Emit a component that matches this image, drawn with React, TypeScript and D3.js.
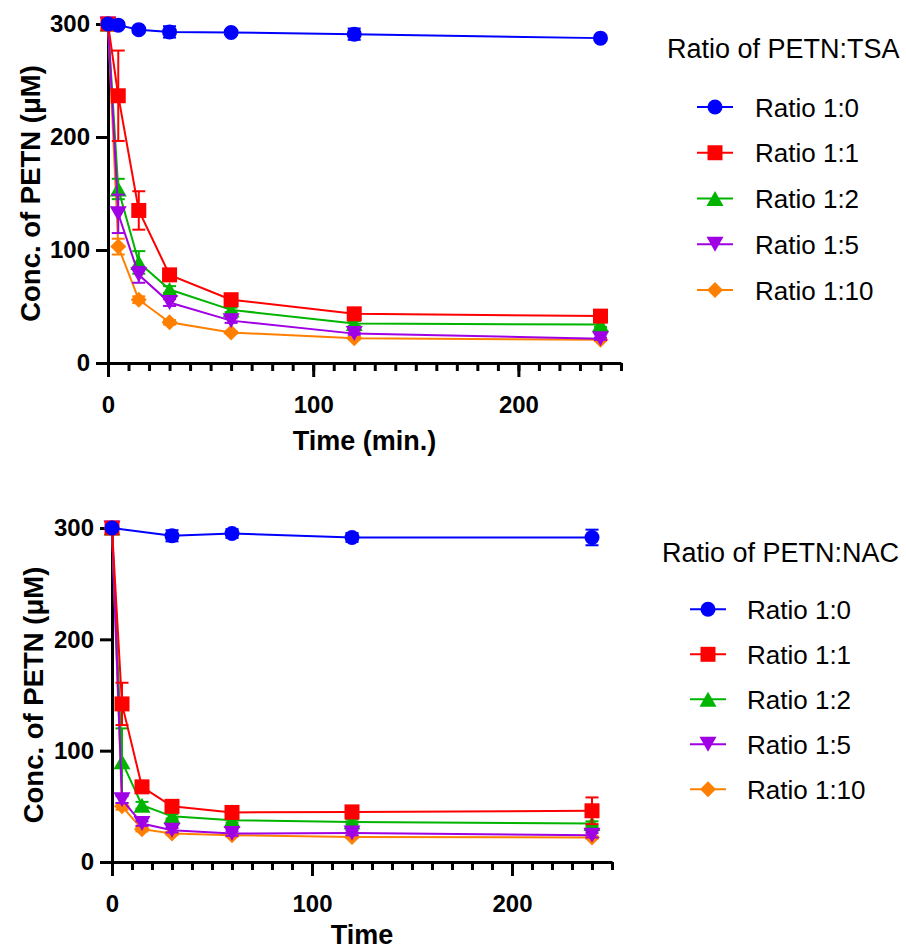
import { useEffect, useRef } from "react";
import * as d3 from "d3";

const FONT = "'Liberation Sans', Arial, sans-serif";

const TIMES = [0, 5, 15, 30, 60, 120, 240];
const NAC_1_0_TIMES = [0, 30, 60, 120, 240];

const LABELS = ["Ratio 1:0", "Ratio 1:1", "Ratio 1:2", "Ratio 1:5", "Ratio 1:10"];
const COLORS = ["#0000FF", "#FF0000", "#00B400", "#A000E4", "#FF8000"];
const SHAPES = ["circle", "square", "triangle", "triangleDown", "diamond"];

// PETN:TSA
const TSA_1_0 = [300, 299, 295, 293, 292.5, 291, 287.5];
const TSA_1_0_ERR = [0, 2, 2, 5, 2, 5, 2];
const TSA_1_1 = [300, 236.5, 135, 78, 56, 43.5, 41.5];
const TSA_1_1_ERR = [0, 40, 17, 3, 3, 2, 2];
const TSA_1_2 = [300, 154, 89, 65, 47, 35, 34];
const TSA_1_2_ERR = [0, 9, 10, 3, 2, 2, 2];
const TSA_1_5 = [300, 132, 78, 53.5, 37.5, 26, 21.5];
const TSA_1_5_ERR = [0, 17, 7, 3, 2, 1, 1];
const TSA_1_10 = [300, 103, 56, 36, 27, 22, 20.5];
const TSA_1_10_ERR = [0, 7, 3, 2, 1, 1, 1];

// PETN:NAC
const NAC_1_0 = [300, 293, 295, 291.5, 291.5];
const NAC_1_0_ERR = [0, 5, 4, 4, 7];
const NAC_1_1 = [300, 142, 67.5, 50, 44.5, 45, 46];
const NAC_1_1_ERR = [0, 19, 3, 2, 2, 2, 12];
const NAC_1_2 = [300, 90, 51, 41, 37.5, 36, 34.5];
const NAC_1_2_ERR = [0, 30, 3, 2, 2, 2, 2];
const NAC_1_5 = [300, 56, 34.5, 28.5, 25.5, 26, 24];
const NAC_1_5_ERR = [0, 3, 2, 2, 2, 2, 2];
const NAC_1_10 = [300, 50, 29.5, 25.5, 24, 22.5, 22];
const NAC_1_10_ERR = [0, 3, 2, 1, 1, 1, 1];

const X_MAJOR = [0, 100, 200];
const X_MINOR = d3.range(0, 251, 10);
const Y_TICKS = [0, 100, 200, 300];

type Pt = { t: number; v: number; e: number };

function makeSeries(times: number[], vals: number[], errs: number[]): Pt[] {
  return times.map((t, i) => ({ t, v: vals[i], e: errs[i] }));
}

const TSA_SERIES = [
  makeSeries(TIMES, TSA_1_0, TSA_1_0_ERR),
  makeSeries(TIMES, TSA_1_1, TSA_1_1_ERR),
  makeSeries(TIMES, TSA_1_2, TSA_1_2_ERR),
  makeSeries(TIMES, TSA_1_5, TSA_1_5_ERR),
  makeSeries(TIMES, TSA_1_10, TSA_1_10_ERR),
];

const NAC_SERIES = [
  makeSeries(NAC_1_0_TIMES, NAC_1_0, NAC_1_0_ERR),
  makeSeries(TIMES, NAC_1_1, NAC_1_1_ERR),
  makeSeries(TIMES, NAC_1_2, NAC_1_2_ERR),
  makeSeries(TIMES, NAC_1_5, NAC_1_5_ERR),
  makeSeries(TIMES, NAC_1_10, NAC_1_10_ERR),
];

// draw order: which series end up on top
const DRAW_ORDER = [4, 2, 3, 1, 0];

function markerPath(shape: string, cx: number, cy: number) {
  const p = d3.path();
  if (shape === "circle") {
    p.arc(cx, cy, 7.5, 0, 2 * Math.PI);
  } else if (shape === "square") {
    p.rect(cx - 7.5, cy - 7.5, 15, 15);
  } else if (shape === "triangle") {
    p.moveTo(cx, cy - 7.5);
    p.lineTo(cx + 8.5, cy + 7.5);
    p.lineTo(cx - 8.5, cy + 7.5);
    p.closePath();
  } else if (shape === "triangleDown") {
    p.moveTo(cx, cy + 7.5);
    p.lineTo(cx + 8.5, cy - 7.5);
    p.lineTo(cx - 8.5, cy - 7.5);
    p.closePath();
  } else {
    p.moveTo(cx, cy - 8);
    p.lineTo(cx + 8, cy);
    p.lineTo(cx, cy + 8);
    p.lineTo(cx - 8, cy);
    p.closePath();
  }
  return p.toString();
}

function Panel({ series, x0, x1, y0, y1, xTitle, xTitleY, yTitleX, legendTitle, legend }) {
  const axisRef = useRef(null);
  const x = d3.scaleLinear().domain([0, 250]).range([x0, x1]);
  const y = d3.scaleLinear().domain([0, 300]).range([y0, y1]);

  useEffect(() => {
    const g = d3.select(axisRef.current);
    g.selectAll("*").remove();

    g.append("g")
      .attr("transform", `translate(0,${y0})`)
      .call(d3.axisBottom(x).tickValues(X_MINOR).tickSize(8).tickSizeOuter(0).tickFormat(() => ""));

    g.append("g")
      .attr("transform", `translate(0,${y0})`)
      .call(d3.axisBottom(x).tickValues(X_MAJOR).tickSize(14).tickSizeOuter(0).tickPadding(19))
      .call((a) => a.select(".domain").remove());

    g.append("g")
      .attr("transform", `translate(${x0},0)`)
      .call(d3.axisLeft(y).tickValues(Y_TICKS).tickSize(12).tickSizeOuter(0).tickPadding(6));

    g.selectAll("line, path").attr("stroke", "#000").attr("stroke-width", 3);
    g.selectAll("text")
      .attr("font-family", FONT)
      .attr("font-size", 24)
      .attr("font-weight", "bold")
      .attr("fill", "#000");

    return () => {
      g.selectAll("*").remove();
    };
  }, [x0, x1, y0, y1]);

  const line = d3
    .line<Pt>()
    .x((d) => x(d.t))
    .y((d) => y(d.v));

  return (
    <g>
      <g ref={axisRef} />
      {DRAW_ORDER.map((si) => (
        <g key={si}>
          <path d={line(series[si]) || ""} fill="none" stroke={COLORS[si]} strokeWidth={2} />
          {series[si]
            .filter((d) => d.e > 0)
            .map((d, i) => (
              <g key={i} stroke={COLORS[si]} strokeWidth={2}>
                <line x1={x(d.t)} x2={x(d.t)} y1={y(d.v - d.e)} y2={y(d.v + d.e)} />
                <line x1={x(d.t) - 6.5} x2={x(d.t) + 6.5} y1={y(d.v + d.e)} y2={y(d.v + d.e)} />
                <line x1={x(d.t) - 6.5} x2={x(d.t) + 6.5} y1={y(d.v - d.e)} y2={y(d.v - d.e)} />
              </g>
            ))}
          {series[si].map((d, i) => (
            <path key={"m" + i} d={markerPath(SHAPES[si], x(d.t), y(d.v))} fill={COLORS[si]} />
          ))}
        </g>
      ))}
      <text
        x={(x0 + x1) / 2}
        y={xTitleY}
        textAnchor="middle"
        fontFamily={FONT}
        fontSize={27}
        fontWeight="bold"
      >
        {xTitle}
      </text>
      <text
        transform={`translate(${yTitleX},${(y0 + y1) / 2}) rotate(-90)`}
        textAnchor="middle"
        fontFamily={FONT}
        fontSize={27.5}
        fontWeight="bold"
      >
        Conc. of PETN (μM)
      </text>
      <text x={legend.titleX} y={legend.titleY} fontFamily={FONT} fontSize={27}>
        {legendTitle}
      </text>
      {LABELS.map((lab, i) => {
        const ry = legend.rowY + i * legend.step;
        return (
          <g key={lab}>
            <line
              x1={legend.mx - 18}
              x2={legend.mx + 18}
              y1={ry}
              y2={ry}
              stroke={COLORS[i]}
              strokeWidth={2}
            />
            <path d={markerPath(SHAPES[i], legend.mx, ry)} fill={COLORS[i]} />
            <text x={legend.textX} y={ry + 9.5} fontFamily={FONT} fontSize={26}>
              {lab}
            </text>
          </g>
        );
      })}
    </g>
  );
}

export default function App() {
  return (
    <svg
      width={906}
      height={949}
      style={{ position: "absolute", left: 0, top: 0, background: "#fff" }}
    >
      <rect width={906} height={949} fill="#fff" />
      <Panel
        series={TSA_SERIES}
        x0={108}
        x1={621}
        y0={363}
        y1={24}
        xTitle="Time (min.)"
        xTitleY={450}
        yTitleX={40}
        legendTitle="Ratio of PETN:TSA"
        legend={{ titleX: 667, titleY: 58, mx: 715, textX: 755, rowY: 107, step: 45.75 }}
      />
      <Panel
        series={NAC_SERIES}
        x0={112}
        x1={612}
        y0={862}
        y1={528}
        xTitle="Time"
        xTitleY={944}
        yTitleX={43}
        legendTitle="Ratio of PETN:NAC"
        legend={{ titleX: 662, titleY: 562, mx: 708, textX: 747, rowY: 609.3, step: 45 }}
      />
    </svg>
  );
}
